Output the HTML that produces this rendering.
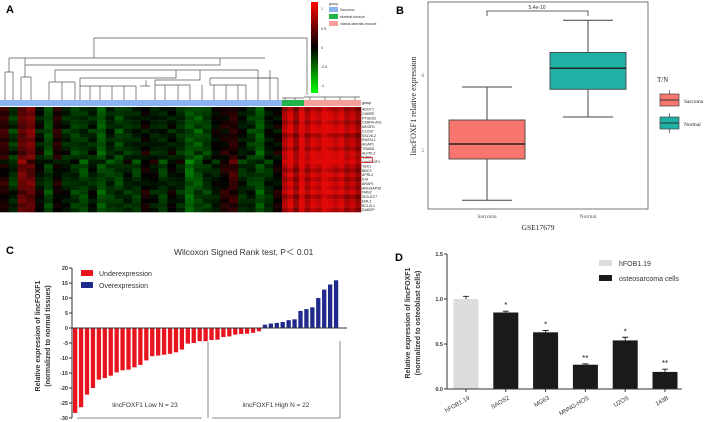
<!DOCTYPE html>
<html><head><meta charset="utf-8"><style>
body{margin:0;background:#fff;}
svg{display:block;font-family:"Liberation Sans",sans-serif;}
</style></head><body>
<svg id="fig" width="709" height="422" viewBox="0 0 709 422" xmlns="http://www.w3.org/2000/svg">
<g id="pA">
<text x="6" y="13" font-size="11" font-weight="bold">A</text>
<g id="dendro" stroke="#555" stroke-width="0.7" fill="none"></g>
<g id="hm"></g>
<g id="grp"></g>
<g id="genes" font-size="3.6" fill="#222"></g>
<rect x="360.5" y="157.5" width="12" height="5" fill="none" stroke="#d00" stroke-width="0.7"/>
<text x="362" y="104" font-size="3.6">group</text>
<defs><linearGradient id="cb" x1="0" y1="0" x2="0" y2="1"><stop offset="0" stop-color="#ff0000"/><stop offset="0.5" stop-color="#000"/><stop offset="1" stop-color="#00ff00"/></linearGradient></defs>
<rect x="311" y="2" width="7" height="91" fill="url(#cb)"/>
<g font-size="3.6" fill="#333">
<text x="321" y="10">1</text><text x="321" y="30">0.5</text><text x="321" y="49">0</text><text x="321" y="68">-0.5</text><text x="321" y="87">-1</text></g>
<g font-size="3.6" fill="#333">
<text x="329" y="5">group</text>
<rect x="329" y="7" width="9" height="5" fill="#8ab4f0"/><text x="340" y="11">Sarcoma</text>
<rect x="329" y="14" width="9" height="5" fill="#22b34a"/><text x="340" y="18">skeletal-muscle</text>
<rect x="329" y="21" width="9" height="5" fill="#f4a09a"/><text x="340" y="25">vastus-lateralis-muscle</text>
</g>
</g>

<g id="pB">
<text x="396" y="14" font-size="11" font-weight="bold">B</text>
<rect x="428" y="2" width="220" height="207" fill="#fff" stroke="#555" stroke-width="0.8"/>
<g id="boxes"></g>
<g id="bticks" font-family="Liberation Serif,serif" font-size="5" fill="#555"></g>
<path d="M487 16V11H588V16" fill="none" stroke="#333" stroke-width="0.8"/>
<text x="537" y="9" font-size="5" text-anchor="middle" fill="#333">5.4e-10</text>
<text x="487" y="218" font-family="Liberation Serif,serif" font-size="5.5" text-anchor="middle" fill="#555">Sarcoma</text>
<text x="588" y="218" font-family="Liberation Serif,serif" font-size="5.5" text-anchor="middle" fill="#555">Normal</text>
<text x="538" y="230" font-family="Liberation Serif,serif" font-size="7.5" text-anchor="middle" fill="#222">GSE17679</text>
<text transform="translate(416,106) rotate(-90)" font-family="Liberation Serif,serif" font-size="8" text-anchor="middle" fill="#222">lincFOXF1 relative expression</text>
<g font-family="Liberation Serif,serif" fill="#222">
<text x="657" y="82" font-size="7">T/N</text>
<line x1="669.5" y1="90" x2="669.5" y2="106" stroke="#444" stroke-width="0.7"/>
<rect x="660" y="94" width="19" height="12" fill="#f8766d" stroke="#444" stroke-width="0.7"/><line x1="660" y1="100" x2="679" y2="100" stroke="#333"/>
<text x="684" y="103" font-size="5.5">Sarcoma</text>
<line x1="669.5" y1="113" x2="669.5" y2="133" stroke="#444" stroke-width="0.7"/>
<rect x="660" y="117" width="19" height="12" fill="#1fb1a6" stroke="#444" stroke-width="0.7"/><line x1="660" y1="123" x2="679" y2="123" stroke="#333"/>
<text x="684" y="126" font-size="5.5">Normal</text>
</g>
</g>

<g id="pC">
<text x="6" y="254" font-size="11" font-weight="bold">C</text>
<text x="174" y="255" font-size="8.5" fill="#333">Wilcoxon Signed Rank test, P＜ 0.01</text>
<g id="cbars"></g>
<g id="caxis" font-size="5.5" font-weight="bold" fill="#333"></g>
<text transform="translate(40,336) rotate(-90)" font-size="7" font-weight="bold" text-anchor="middle" fill="#333">Relative expression of lincFOXF1</text>
<text transform="translate(50,336) rotate(-90)" font-size="7" font-weight="bold" text-anchor="middle" fill="#333">(normalized to normal tissues)</text>
<rect x="81" y="270" width="12" height="6" fill="#e8141e"/>
<text x="99" y="276" font-size="7" fill="#333">Underexpression</text>
<rect x="81" y="282" width="12" height="6" fill="#1f2a8c"/>
<text x="99" y="288" font-size="7" fill="#333">Overexpression</text>
<g stroke="#666" stroke-width="0.8">
<line x1="208" y1="342" x2="208" y2="418"/><line x1="340" y1="341" x2="340" y2="418"/>
<line x1="77" y1="418" x2="202" y2="418"/><line x1="212" y1="418" x2="340" y2="418"/></g>
<text x="145" y="407" font-size="6.5" text-anchor="middle" fill="#333">lincFOXF1 Low N = 23</text>
<text x="276" y="407" font-size="6.5" text-anchor="middle" fill="#333">lincFOXF1 High N = 22</text>
</g>

<g id="pD">
<text x="395" y="261" font-size="11" font-weight="bold">D</text>
<g id="dbars"></g>
<g id="daxis" font-size="5.5" font-weight="bold" fill="#333"></g>
<text transform="translate(410,323) rotate(-90)" font-size="7" font-weight="bold" text-anchor="middle" fill="#333">Relative expression of lincFOXF1</text>
<text transform="translate(420,323) rotate(-90)" font-size="7" font-weight="bold" text-anchor="middle" fill="#333">(normalized to osteoblast cells)</text>
<rect x="599" y="260" width="13" height="6" fill="#dcdcdc"/>
<text x="619" y="266" font-size="7" fill="#333">hFOB1.19</text>
<rect x="599" y="275" width="13" height="6" fill="#1a1a1a"/>
<text x="619" y="281" font-size="7" fill="#333">osteosarcoma cells</text>
</g>
</svg>
<script>
// ---- Panel A data ----
const hmSarcomaCols=[0.2,-0.3,0.6,0.6,-0.1,-0.4,0.1,-0.2,-0.3,-0.4,-0.2,-0.5,-0.3,-0.4,-0.2,-0.3,0,-0.1,-0.3,-0.1,-0.2,-0.6,-0.5,-0.3,-0.1,0.1,0.3,-0.2,-0.3,-0.5,-0.2,0.0];
const hmNormalCols=[0.7,0.9,0.6,1.0,0.7,0.9,0.8,1.0,0.9,0.8,0.9,0.7,0.8,0.6];
const hmRowOffsets=[-0.1,0.05,0.1,-0.05,0.1,0.15,-0.1,0.05,0.1,-0.05,0.15,0.1,0.2,0.05,-0.1,0.1,-0.05,0.1,0.0,0.15,-0.1,0.05,0.1,-0.05];
const genes=["ADGT1","CHBPE","PTGES2","CEBPA-AS1","MDGR1","CLCN7","SSLV8-2","RASSL1","AGAP1","TRABD","ALPPL2","IL36A","LincFOXF1","YBX1","BBC3","APRL2","ILM","ARAP1","ARHGAP30","FMN2","SIGLEC7","EML2","BCL2L1","DAB2IP"];
// ---- Panel B data ----
const bGroups=["Sarcoma","Normal"];
const bLowWhisker=[4.33,5.44], bQ1=[4.88,5.81], bMedian=[5.08,6.09], bQ3=[5.40,6.30], bHighWhisker=[5.84,6.73];
const bTicks=[5,6];
// ---- Panel C data ----
const cValues=[-28.3,-26.4,-22.2,-20,-17.2,-16.7,-15.9,-14.8,-14.1,-13.9,-13.1,-12.3,-10.8,-9.4,-9.2,-8.9,-8.6,-8.1,-7.2,-5.2,-5,-4.4,-4.4,-4,-3.9,-3,-2.8,-2.2,-2,-1.9,-1.6,-1.1,1.1,1.5,1.7,2.0,2.6,2.9,5.7,6.3,6.9,10,12.8,14.5,15.9];
const cTicks=[20,15,10,5,0,-5,-10,-15,-20,-25,-30];
// ---- Panel D data ----
const dCells=["hFOB1.19","SAOS2","MG63","MNNG-HOS","U2OS","143B"];
const dValues=[1.0,0.85,0.63,0.27,0.54,0.19];
const dErrors=[0.03,0.015,0.02,0.01,0.035,0.03];
const dStars=["","*","*","**","*","**"];
const dTicks=[0,0.5,1.0,1.5];

const NS="http://www.w3.org/2000/svg";
function mk(tag,attrs,parent){const e=document.createElementNS(NS,tag);for(const k in attrs)e.setAttribute(k,attrs[k]);parent.appendChild(e);return e;}

// Panel A
function hmColor(v){v=Math.max(-1,Math.min(1,v));if(v>=0)return `rgb(${Math.round(225*v)},${Math.round(8*v)},${Math.round(8*v)})`;return `rgb(0,${Math.round(-200*v)},0)`;}
const hm=document.getElementById('hm');
const hmTop=107,hmH=105,rows=hmRowOffsets.length,rh=hmH/rows;
const allCols=hmSarcomaCols.map(v=>({v,g:0})).concat(hmNormalCols.map(v=>({v,g:1})));
let xs=0;
allCols.forEach((c,i)=>{
  const w=c.g===0?282/hmSarcomaCols.length:79/hmNormalCols.length;
  hmRowOffsets.forEach((r,j)=>{
    const val=c.g?(c.v+r):(c.v*0.75+r*(((i+j)%3)-1)*1.2);
    const cell=mk('rect',{x:xs.toFixed(2),y:(hmTop+j*rh).toFixed(2),width:(w+0.3).toFixed(2),height:(rh+0.3).toFixed(2),fill:hmColor(val)},hm);
    
    
  });
  xs+=w;
});
const grp=document.getElementById('grp');
[[0,282,'#8ab4f0'],[282,22,'#22b34a'],[304,57,'#f4a09a']].forEach(s=>{const r=mk('rect',{x:s[0],y:100,width:s[1],height:6,fill:s[2]},grp);});
const gl=document.getElementById('genes');
genes.forEach((g,j)=>{const t=mk('text',{x:362,y:(hmTop+j*rh+3.6).toFixed(1)},gl);t.textContent=g;});
// dendrogram (structural sketch)
const dd=document.getElementById('dendro');
const dpaths=["M94 58V38H307V95","M9 58H265","M9 58V72M5 72H13M5 72V100M13 72V100","M25 58V65H220V58","M25 65V77M21 77H31M21 77V100M31 77V100","M55 70H258M55 70V82","M49 82H75M49 82V100M62 82V100M75 82V100","M80 78H176V70","M80 78V86H136M80 86V100M90 86V100M100 86V100M112 86V100M124 86V100M136 86V100","M155 80H200V70","M155 80V85H190M155 85V100M165 85V100M178 85V100M190 85V100","M210 78H270V70","M210 78V85H246M202 85V100M214 85V100M226 85V100M238 85V100M246 85V100","M258 70V78H278M258 78V100M270 78V100M278 78V100","M146 80V86M140 86H150","M282 98H304M285 98V100M295 98V100M304 97H360M310 97V100M325 97V100M340 97V100M355 97V100"];
dpaths.forEach(d=>{const p=mk('path',{d},dd);});

// Panel B
const bY=v=>150-(v-5)*75, bX=i=>487+i*101;
const bFill=["#f8766d","#1fb1a6"];
const boxes=document.getElementById('boxes');
bGroups.forEach((g,i)=>{
  const cx=bX(i);
  const w=mk('path',{d:`M${cx} ${bY(bHighWhisker[i])}V${bY(bQ3[i])}M${cx} ${bY(bQ1[i])}V${bY(bLowWhisker[i])}M${cx-25} ${bY(bHighWhisker[i])}H${cx+25}M${cx-25} ${bY(bLowWhisker[i])}H${cx+25}`,stroke:'#444','stroke-width':1,fill:'none'},boxes);
  
  
  const r=mk('rect',{x:cx-38,y:bY(bQ3[i]),width:76,height:bY(bQ1[i])-bY(bQ3[i]),fill:bFill[i],stroke:'#444','stroke-width':0.9},boxes);
  
  
  const m=mk('line',{x1:cx-38,x2:cx+38,y1:bY(bMedian[i]),y2:bY(bMedian[i]),stroke:'#222','stroke-width':1.5},boxes);
  
  
});
const bt=document.getElementById('bticks');
bTicks.forEach(t=>{const e=mk('text',{x:424,y:bY(t)+2,'text-anchor':'end'},bt);e.textContent=t;});

// Panel C
const cY=v=>328-v*3, cBarX=i=>73+i*5.93;
const cb=document.getElementById('cbars');
cValues.forEach((v,i)=>{
  const r=mk('rect',{x:cBarX(i).toFixed(2),y:Math.min(cY(v),328),width:4.3,height:Math.abs(cY(v)-328),fill:v<0?'#e8141e':'#1f2a8c'},cb);
  
  
});
const ca=document.getElementById('caxis');
mk('line',{x1:72,x2:72,y1:cY(20),y2:cY(-30),stroke:'#333','stroke-width':1},ca);
mk('line',{x1:72,x2:347,y1:328,y2:328,stroke:'#333','stroke-width':1},ca);
cTicks.forEach(t=>{mk('line',{x1:69,x2:72,y1:cY(t),y2:cY(t),stroke:'#333'},ca);const e=mk('text',{x:68,y:cY(t)+2,'text-anchor':'end'},ca);e.textContent=t;});

// Panel D
const dY=v=>389-v*90, dX=i=>466+i*39.8;
const db=document.getElementById('dbars');
dCells.forEach((c,i)=>{
  const v=dValues[i],cx=dX(i);
  const r=mk('rect',{x:cx-12.5,y:dY(v),width:25,height:389-dY(v),fill:i===0?'#dcdcdc':'#1a1a1a'},db);
  
  
  const e=mk('path',{d:`M${cx} ${dY(v)}V${dY(v+dErrors[i])}M${cx-3} ${dY(v+dErrors[i])}H${cx+3}`,stroke:'#1a1a1a','stroke-width':0.9},db);
  
  
  if(dStars[i]){const s=mk('text',{x:cx,y:dY(v+dErrors[i])-3,'text-anchor':'middle','font-size':8,fill:'#222'},db);s.textContent=dStars[i];}
});
const da=document.getElementById('daxis');
mk('line',{x1:447,x2:447,y1:dY(1.5),y2:389,stroke:'#333','stroke-width':1},da);
mk('line',{x1:447,x2:682,y1:389,y2:389,stroke:'#333','stroke-width':1},da);
dTicks.forEach(t=>{mk('line',{x1:444,x2:447,y1:dY(t),y2:dY(t),stroke:'#333'},da);const e=mk('text',{x:443,y:dY(t)+2,'text-anchor':'end'},da);e.textContent=t.toFixed(1);});
dCells.forEach((c,i)=>{mk('line',{x1:dX(i),x2:dX(i),y1:389,y2:392,stroke:'#333'},da);const e=mk('text',{x:dX(i)+4,y:399,'text-anchor':'end',transform:`rotate(-30 ${dX(i)+4} 399)`,'font-weight':'normal','font-size':6},da);e.textContent=c;});
</script>
</body></html>
